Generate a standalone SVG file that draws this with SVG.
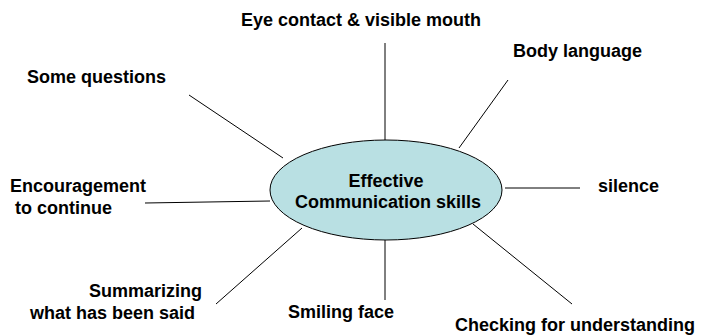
<svg xmlns="http://www.w3.org/2000/svg" width="705" height="336" viewBox="0 0 705 336">
<style>
text{font-family:"Liberation Sans",Arial,sans-serif;font-weight:bold;font-size:18px;fill:#000}
.c{stroke:#000;stroke-width:1;fill:none}
</style>
<rect width="705" height="336" fill="#fff"/>
<g id="connectors">
<line class="c" x1="385" y1="43" x2="385" y2="140"/>
<line class="c" x1="508" y1="80" x2="459" y2="148"/>
<line class="c" x1="189" y1="95" x2="283" y2="158"/>
<line class="c" x1="145" y1="203" x2="270" y2="201"/>
<line class="c" x1="505" y1="188" x2="580" y2="188"/>
<line class="c" x1="216" y1="304" x2="302" y2="228"/>
<line class="c" x1="385" y1="240" x2="385" y2="300"/>
<line class="c" x1="473" y1="224" x2="572" y2="304"/>
</g>
<g id="center">
<ellipse cx="386" cy="190" rx="116" ry="50" fill="#b9e0e3" stroke="#000" stroke-width="1"/>
<text x="386" y="187" text-anchor="middle">Effective</text>
<text x="388" y="208" text-anchor="middle">Communication skills</text>
</g>
<g id="eye"><text x="241" y="26">Eye contact &amp; visible mouth</text></g>
<g id="body"><text x="513" y="57">Body language</text></g>
<g id="questions"><text x="27" y="83">Some questions</text></g>
<g id="encourage"><text x="10" y="192">Encouragement</text><text x="15" y="214">to continue</text></g>
<g id="silence"><text x="598" y="192">silence</text></g>
<g id="summarize"><text x="202" y="297" text-anchor="end">Summarizing</text><text x="195" y="319" text-anchor="end">what has been said</text></g>
<g id="smiling"><text x="394" y="318" text-anchor="end">Smiling face</text></g>
<g id="checking"><text x="455" y="331">Checking for understanding</text></g>
</svg>
